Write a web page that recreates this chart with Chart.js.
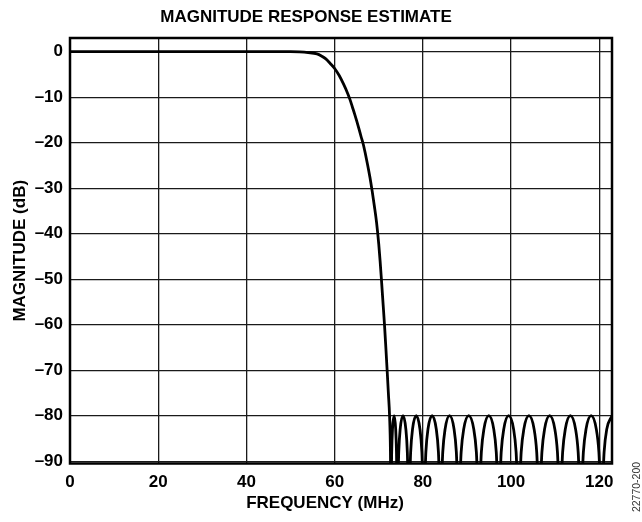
<!DOCTYPE html>
<html>
<head>
<meta charset="utf-8">
<script src="https://cdn.jsdelivr.net/npm/chart.js@4.4.0/dist/chart.umd.min.js"></script>
<style>
  body { margin: 0; background: #fff; }
  canvas { display: block; }
</style>
</head>
<body>
<canvas id="magChart" width="642" height="522"></canvas>
<script>
// respuesta en magnitud: banda de paso, transición y lóbulos de la banda de rechazo
const freqMHz = [
  0, 10, 20, 30, 40, 50, 52, 54, 56, 57, 58, 59, 60, 61, 62, 63, 63.5, 64, 64.5, 65,
  65.5, 66, 66.5, 67, 67.5, 68, 68.5, 69, 69.5, 70, 70.3, 70.6, 71, 71.3, 71.6, 71.9,
  72.2, 72.45, 72.65, 72.75,
  72.93, 73.11, 73.48, 73.84, 74.02, 74.2,
  74.53, 74.85, 75.5, 76.15, 76.48, 76.8,
  77.23, 77.65, 78.5, 79.35, 79.78, 80.2,
  80.68, 81.15, 82.1, 83.05, 83.53, 84.0,
  84.51, 85.03, 86.05, 87.08, 87.59, 88.1,
  88.68, 89.25, 90.4, 91.55, 92.13, 92.7,
  93.26, 93.83, 94.95, 96.08, 96.64, 97.2,
  97.76, 98.33, 99.45, 100.58, 101.14, 101.7,
  102.29, 102.88, 104.05, 105.23, 105.81, 106.4,
  106.99, 107.58, 108.75, 109.93, 110.51, 111.1,
  111.69, 112.28, 113.45, 114.63, 115.21, 115.8,
  116.39, 116.98, 118.15, 119.33, 119.91, 120.5,
  121.09, 121.68, 122.88
];
const magDb = [
  0, 0, 0, 0, 0, 0, -0.05, -0.2, -0.5, -0.95, -1.6, -2.6, -3.7, -5.2, -7.1, -9.3, -10.6, -12.1, -13.6, -15.2,
  -16.9, -18.7, -20.4, -22.6, -25, -27.6, -30.6, -33.9, -37.5, -42.3, -45.9, -50, -55.7, -60, -64.9, -70,
  -75.4, -80, -88, -100,
  -88, -83, -80, -83, -88, -100,
  -88, -83, -80, -83, -88, -100,
  -88, -83, -80, -83, -88, -100,
  -88, -83, -80, -83, -88, -100,
  -88, -83, -80, -83, -88, -100,
  -88, -83, -80, -83, -88, -100,
  -88, -83, -80, -83, -88, -100,
  -88, -83, -80, -83, -88, -100,
  -88, -83, -80, -83, -88, -100,
  -88, -83, -80, -83, -88, -100,
  -88, -83, -80, -83, -88, -100,
  -88, -83, -80, -83, -88, -100,
  -88, -83, -80
];
const xTicks = [0, 20, 40, 60, 80, 100, 120];
const yTicks = [0, -10, -20, -30, -40, -50, -60, -70, -80, -90];

const FONT = "'Liberation Sans', Arial, Helvetica, sans-serif";
const boldFont = { family: FONT, size: 17, weight: 'bold' };

// marco negro del área de trazado y textos sueltos
const framePlugin = {
  id: 'frame',
  afterDatasetsDraw(chart) {
    const { ctx, chartArea: a } = chart;
    ctx.save();
    ctx.strokeStyle = '#000';
    ctx.lineWidth = 2.5;
    ctx.strokeRect(a.left, a.top, a.right - a.left, a.bottom - a.top);
    ctx.restore();
  },
  afterDraw(chart) {
    const ctx = chart.ctx;
    ctx.save();
    ctx.fillStyle = '#000';
    ctx.font = 'bold 17px ' + FONT;
    ctx.textAlign = 'center';
    ctx.textBaseline = 'middle';
    ctx.fillText('FREQUENCY (MHz)', 325, 503);
    ctx.translate(637, 487);
    ctx.rotate(-Math.PI / 2);
    ctx.font = '10.5px ' + FONT;
    ctx.fillStyle = '#333';
    ctx.fillText('22770-200', 0, 0);
    ctx.restore();
  }
};

new Chart(document.getElementById('magChart'), {
  type: 'line',
  data: {
    datasets: [{
      data: freqMHz.map((f, i) => ({ x: f, y: magDb[i] })),
      borderColor: '#000',
      borderWidth: 2.8,
      pointRadius: 0,
      fill: false,
      cubicInterpolationMode: 'monotone'
    }]
  },
  options: {
    responsive: false,
    animation: false,
    layout: { padding: { right: 30 } },
    plugins: {
      legend: { display: false },
      tooltip: { enabled: false },
      title: {
        display: true,
        text: 'MAGNITUDE RESPONSE ESTIMATE',
        color: '#000',
        font: boldFont,
        padding: { top: 7, bottom: 10.6 }
      }
    },
    scales: {
      x: {
        type: 'linear',
        min: 0,
        max: 122.88,
        afterBuildTicks: s => { s.ticks = xTicks.map(v => ({ value: v })); },
        afterFit: s => { s.height = 58.5; },
        ticks: { color: '#000', font: boldFont, padding: 9, maxRotation: 0, autoSkip: false },
        grid: { color: '#1a1a1a', lineWidth: 1.3, drawTicks: false, tickLength: 0 },
        border: { display: false }
      },
      y: {
        min: -90.5,
        max: 3,
        afterBuildTicks: s => { s.ticks = yTicks.map(v => ({ value: v })); },
        afterFit: s => { s.width = 70; },
        ticks: {
          color: '#000',
          font: boldFont,
          padding: 7,
          autoSkip: false,
          callback: v => v === 0 ? '0' : '\u2013' + Math.abs(v)
        },
        grid: { color: '#1a1a1a', lineWidth: 1.3, drawTicks: false, tickLength: 0 },
        border: { display: false },
        title: {
          display: true,
          text: 'MAGNITUDE (dB)',
          color: '#000',
          font: boldFont,
          padding: { top: 10, bottom: 0 }
        }
      }
    }
  },
  plugins: [framePlugin]
});
</script>
</body>
</html>
